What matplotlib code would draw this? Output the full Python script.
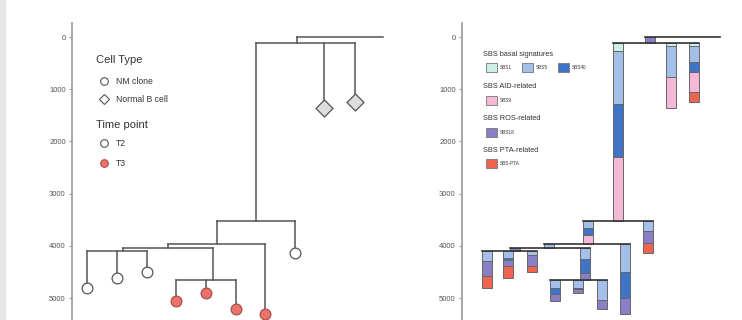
import matplotlib.pyplot as plt
from matplotlib.patches import Rectangle

plt.rcParams['font.family'] = ['Liberation Sans', 'DejaVu Sans']

# tree: branch names, parents and layout position in each panel
nodes = ["A", "B", "N1", "N2", "B2", "C", "D", "E", "E1", "E2", "E3", "F", "F1", "F2", "F3", "C2"]
parents = ["root", "A", "A", "A", "B", "B", "C", "D", "E", "E", "E", "D", "F", "F", "F", "C"]
x_tree = [297, 256, 324, 355, 295, 217, 168, 123, 87, 117, 147, 213, 176, 206, 236, 265]
x_bars = [650, 618, 671, 694, 648, 588, 549, 515, 487, 508, 532, 585, 555, 578, 602, 625]
root_end_tree = 383
root_end_bars = 715

# mutations per branch attributed to each signature
sbs1 = [0, 150, 60, 70, 0, 0, 0, 0, 0, 0, 0, 0, 0, 0, 0, 0]
sbs5 = [0, 1025, 590, 300, 205, 140, 80, 0, 190, 120, 70, 210, 150, 150, 380, 540]
sbs40 = [0, 1005, 0, 195, 0, 130, 0, 0, 0, 50, 0, 260, 120, 30, 0, 495]
sbs9 = [0, 1225, 590, 375, 0, 175, 0, 0, 0, 0, 0, 0, 0, 0, 0, 0]
sbs18 = [110, 0, 0, 0, 230, 0, 0, 65, 280, 110, 205, 140, 130, 70, 185, 315]
sbs_pta = [0, 0, 0, 190, 190, 0, 0, 0, 240, 230, 120, 0, 0, 0, 0, 0]

sig_names = ["SBS1", "SBS5", "SBS40", "SBS9", "SBS18", "SBS-PTA"]
sig_colors = ["#cdeee6", "#a4bfe9", "#3f73c6", "#f5b8d6", "#8a7fc6", "#ef6450"]
sig_values = [sbs1, sbs5, sbs40, sbs9, sbs18, sbs_pta]

# leaves
leaf_cell = {"N1": "Normal B cell", "N2": "Normal B cell", "B2": "NM clone",
             "E1": "NM clone", "E2": "NM clone", "E3": "NM clone",
             "F1": "NM clone", "F2": "NM clone", "F3": "NM clone", "C2": "NM clone"}
leaf_time = {"N1": "T2", "N2": "T2", "B2": "T2", "E1": "T2", "E2": "T2", "E3": "T2",
             "F1": "T3", "F2": "T3", "F3": "T3", "C2": "T3"}

yticks = [0, 1000, 2000, 3000, 4000, 5000]

depth = {"root": 0}
for i, n in enumerate(nodes):
    depth[n] = depth[parents[i]] + sum(v[i] for v in sig_values)

W, H = 742, 320
fig = plt.figure(figsize=(W / 100, H / 100), dpi=100)
fig.patches.append(Rectangle((0, 0), 5 / W, 1, transform=fig.transFigure,
                             color="#e6e6e6", zorder=0))

def px(x, y):
    return x / W, 1 - y / H

def setup(ax, x0, x1):
    ax.set_xlim(x0, x1)
    ax.set_ylim(5420, -270)
    for s in ["top", "right", "bottom"]:
        ax.spines[s].set_visible(False)
    ax.spines["left"].set_color("#999999")
    ax.spines["left"].set_linewidth(1.2)
    ax.set_xticks([])
    ax.set_yticks(yticks)
    ax.set_yticklabels([str(t) for t in yticks], fontsize=5.5, color="#555555")
    ax.tick_params(axis="y", length=2.5, width=0.8, color="#999999", pad=2)

ax1 = fig.add_axes([72 / W, 0, 328 / W, 297 / H])
ax2 = fig.add_axes([462 / W, 0, 280 / W, 297 / H])
setup(ax1, 72, 400)
setup(ax2, 462, 742)

# left panel: dendrogram with leaf markers
line_c = "#555555"
for i, n in enumerate(nodes):
    ax1.plot([x_tree[i], x_tree[i]], [depth[parents[i]], depth[n]], color=line_c, lw=1.1, zorder=1)
for p in ["root"] + nodes:
    kids = [x_tree[i] for i, q in enumerate(parents) if q == p]
    if p == "root":
        kids.append(root_end_tree)
    if len(kids) > 1:
        ax1.plot([min(kids), max(kids)], [depth[p], depth[p]], color=line_c, lw=1.1, zorder=1)

for n in leaf_cell:
    i = nodes.index(n)
    fc = "#e8736c" if leaf_time[n] == "T3" else ("#dddddd" if leaf_cell[n] == "Normal B cell" else "white")
    ec = "#a9504a" if leaf_time[n] == "T3" else "#555555"
    mk = "D" if leaf_cell[n] == "Normal B cell" else "o"
    ms = 75 if mk == "D" else 60
    ax1.scatter(x_tree[i], depth[n], s=ms, marker=mk, facecolor=fc, edgecolor=ec, lw=0.9, zorder=3)

# left legend
fig.text(*px(96, 60), "Cell Type", fontsize=8, color="#333333", va="center")
fig.text(*px(96, 125), "Time point", fontsize=8, color="#333333", va="center")
leg_rows = [(81, "o", "white", "#555555", "NM clone"),
            (99, "D", "white", "#555555", "Normal B cell"),
            (143, "o", "white", "#555555", "T2"),
            (163, "o", "#e8736c", "#a9504a", "T3")]
for y, mk, fc, ec, lab in leg_rows:
    fx, fy = px(104, y)
    fig.add_artist(plt.Line2D([fx], [fy], marker=mk, markersize=5.5 if mk == "o" else 5,
                              markerfacecolor=fc, markeredgecolor=ec, markeredgewidth=0.8,
                              linestyle="none", transform=fig.transFigure))
    fig.text(*px(116, y), lab, fontsize=6.2, color="#333333", va="center")

# right panel: stacked signature bars along each branch
for i, n in enumerate(nodes):
    bottom = depth[parents[i]]
    for k, vals in enumerate(sig_values):
        if vals[i] > 0:
            ax2.bar(x_bars[i], vals[i], bottom=bottom, width=10, color=sig_colors[k],
                    edgecolor="#666666", lw=0.7, zorder=2)
            bottom += vals[i]
for p in ["root"] + nodes:
    kids = [x_bars[i] for i, q in enumerate(parents) if q == p]
    if p == "root":
        kids.append(root_end_bars)
    if len(kids) > 1:
        ax2.plot([min(kids) - 5, max(kids) + 5], [depth[p], depth[p]], color="#333333", lw=1.2, zorder=3)

# right legend
groups = [(54, "SBS basal signatures", [0, 1, 2]),
          (87, "SBS AID-related", [3]),
          (119, "SBS ROS-related", [4]),
          (150, "SBS PTA-related", [5])]
for y, title, idx in groups:
    fig.text(*px(483, y), title, fontsize=5.3, color="#333333", va="center")
    for j, k in enumerate(idx):
        x0 = 486 + j * 36
        fx, fy = px(x0, y + 18)
        fig.patches.append(Rectangle((fx, fy), 11 / W, 9 / H, transform=fig.transFigure,
                                     facecolor=sig_colors[k], edgecolor="#777777", lw=0.6))
        fig.text(*px(x0 + 14, y + 13.5), sig_names[k], fontsize=3.4, color="#333333", va="center")

fig.savefig("out.png", dpi=100, facecolor="white")
